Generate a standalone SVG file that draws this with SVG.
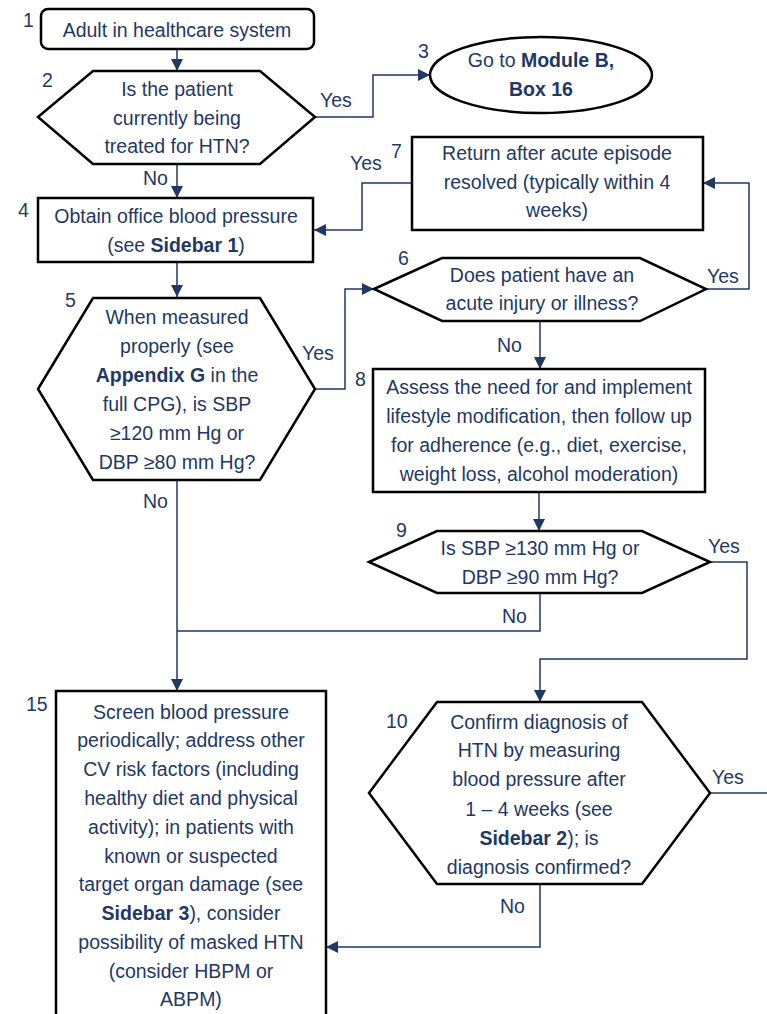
<svg xmlns="http://www.w3.org/2000/svg" width="767" height="1014" viewBox="0 0 767 1014">
<defs>
<marker id="arr" markerUnits="userSpaceOnUse" markerWidth="12" markerHeight="12" refX="12" refY="6" orient="auto"><path d="M0,0 L12,6 L0,12 Z" fill="#1f3864"/></marker>
</defs>
<style>
text{font-family:"Liberation Sans",Arial,sans-serif;font-size:19.5px;fill:#1f3864}
.c{text-anchor:middle}
.b{font-weight:bold}
.box{fill:#fff;stroke:#000;stroke-width:2.5}
.ln{fill:none;stroke:#1f3864;stroke-width:1.5}
.ar{marker-end:url(#arr)}
</style>
<rect width="767" height="1014" fill="#fff"/>
<g id="connectors">
<path class="ln ar" d="M177,49 V71"/>
<path class="ln ar" d="M315,117 H373 V75 H430"/>
<path class="ln ar" d="M177,164 V198"/>
<path class="ln ar" d="M177,262 V297"/>
<path class="ln ar" d="M315,389 H345 V289 H374"/>
<path class="ln ar" d="M706,289 H749 V183 H703"/>
<path class="ln ar" d="M412,183 H362 V230 H314"/>
<path class="ln ar" d="M540,321 V369"/>
<path class="ln ar" d="M539,492 V531"/>
<path class="ln ar" d="M710,562 H747 V659 H540 V702"/>
<path class="ln" d="M540,593 V631 H177"/>
<path class="ln ar" d="M177,480 V691"/>
<path class="ln" d="M710,793 H767"/>
<path class="ln ar" d="M540,884 V947 H326"/>
<text x="320" y="107">Yes</text>
<text x="143" y="185">No</text>
<text x="350" y="170">Yes</text>
<text x="302" y="360">Yes</text>
<text x="707" y="283">Yes</text>
<text x="497" y="352">No</text>
<text x="143" y="508">No</text>
<text x="708" y="553">Yes</text>
<text x="502" y="623">No</text>
<text x="712" y="784">Yes</text>
<text x="500" y="913">No</text>
</g>
<g id="node1">
<rect class="box" x="41" y="9" width="273" height="40" rx="7"/>
<text x="23" y="27">1</text>
<text class="c" x="177" y="37">Adult in healthcare system</text>
</g>
<g id="node2">
<polygon class="box" points="38,117 93,71 260,71 315,117 260,164 93,164"/>
<text x="42" y="87">2</text>
<text class="c" x="177" y="96">Is the patient</text>
<text class="c" x="177" y="124.5">currently being</text>
<text class="c" x="177" y="153">treated for HTN?</text>
</g>
<g id="node3">
<ellipse class="box" cx="541" cy="75" rx="111" ry="38"/>
<text x="418" y="58">3</text>
<text class="c" x="541" y="67">Go to <tspan class="b">Module B,</tspan></text>
<text class="c b" x="541" y="96">Box 16</text>
</g>
<g id="node4">
<rect class="box" x="38" y="198" width="275" height="64"/>
<text x="18" y="217">4</text>
<text class="c" x="176" y="223">Obtain office blood pressure</text>
<text class="c" x="176" y="251.5">(see <tspan class="b">Sidebar 1</tspan>)</text>
</g>
<g id="node5">
<polygon class="box" points="38,389 93,298 260,298 315,389 260,480 93,480"/>
<text x="65" y="307">5</text>
<text class="c" x="177" y="323.5">When measured</text>
<text class="c" x="177" y="352.5">properly (see</text>
<text class="c" x="177" y="381.5"><tspan class="b">Appendix G</tspan> in the</text>
<text class="c" x="177" y="410.5">full CPG), is SBP</text>
<text class="c" x="177" y="439.5">≥120 mm Hg or</text>
<text class="c" x="177" y="468.5">DBP ≥80 mm Hg?</text>
</g>
<g id="node6">
<polygon class="box" points="374,289 442,258 640,258 706,289 640,321 442,321"/>
<text x="398" y="265">6</text>
<text class="c" x="542" y="281.5">Does patient have an</text>
<text class="c" x="542" y="310">acute injury or illness?</text>
</g>
<g id="node7">
<rect class="box" x="412" y="137" width="291" height="93"/>
<text x="391" y="158">7</text>
<text class="c" x="557" y="160">Return after acute episode</text>
<text class="c" x="557" y="188.5">resolved (typically within 4</text>
<text class="c" x="557" y="217">weeks)</text>
</g>
<g id="node8">
<rect class="box" x="373" y="369" width="332" height="123"/>
<text x="355" y="386">8</text>
<text class="c" x="539" y="393.5">Assess the need for and implement</text>
<text class="c" x="539" y="422.5">lifestyle modification, then follow up</text>
<text class="c" x="539" y="451.5">for adherence (e.g., diet, exercise,</text>
<text class="c" x="539" y="480.5">weight loss, alcohol moderation)</text>
</g>
<g id="node9">
<polygon class="box" points="369,562 437,531 642,531 710,562 642,593 437,593"/>
<text x="396" y="537">9</text>
<text class="c" x="540" y="555">Is SBP ≥130 mm Hg or</text>
<text class="c" x="540" y="583.5">DBP ≥90 mm Hg?</text>
</g>
<g id="node10">
<polygon class="box" points="369,793 437,702 642,702 710,793 642,884 437,884"/>
<text x="386" y="728">10</text>
<text class="c" x="539" y="728.5">Confirm diagnosis of</text>
<text class="c" x="539" y="757">HTN by measuring</text>
<text class="c" x="539" y="786">blood pressure after</text>
<text class="c" x="539" y="815.5">1 – 4 weeks (see</text>
<text class="c" x="539" y="844.5"><tspan class="b">Sidebar 2</tspan>); is</text>
<text class="c" x="539" y="873.5">diagnosis confirmed?</text>
</g>
<g id="node15">
<rect class="box" x="56" y="691" width="270" height="340"/>
<text x="26" y="711">15</text>
<text class="c" x="191" y="718.5">Screen blood pressure</text>
<text class="c" x="191" y="747">periodically; address other</text>
<text class="c" x="191" y="776">CV risk factors (including</text>
<text class="c" x="191" y="804.5">healthy diet and physical</text>
<text class="c" x="191" y="833.5">activity); in patients with</text>
<text class="c" x="191" y="862.5">known or suspected</text>
<text class="c" x="191" y="891">target organ damage (see</text>
<text class="c" x="191" y="920"><tspan class="b">Sidebar 3</tspan>), consider</text>
<text class="c" x="191" y="948.5">possibility of masked HTN</text>
<text class="c" x="191" y="977.5">(consider HBPM or</text>
<text class="c" x="191" y="1006">ABPM)</text>
</g>
</svg>
